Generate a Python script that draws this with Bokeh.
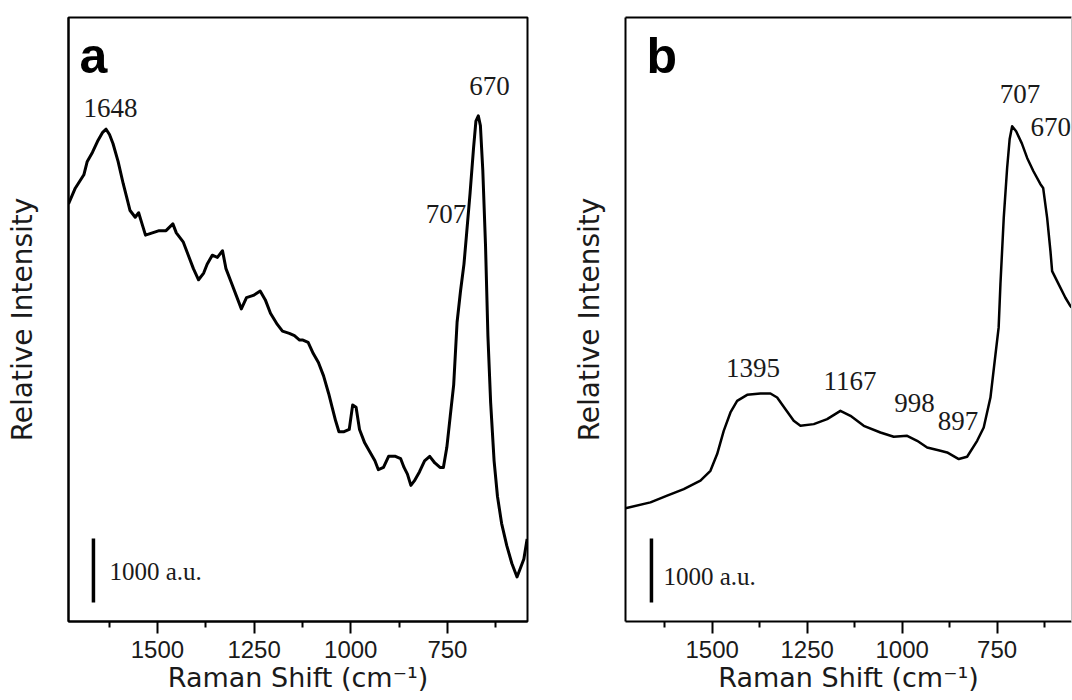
from bokeh.plotting import figure
from bokeh.models import Range1d, FixedTicker, LinearAxis
from bokeh.layouts import row
from bokeh.embed import file_html
from bokeh.resources import INLINE
from bokeh.core.properties import value

# ---------------- data ----------------
major_ticks = [1500, 1250, 1000, 750]
minor_ticks = [1625, 1375, 1125, 875, 625]
tick_labels = ["1500", "1250", "1000", "750"]

# panel a spectrum (Raman shift cm-1, intensity a.u.)
wn_a = [1730, 1712.5, 1690.3, 1681.5, 1668.2, 1654.9, 1641.6, 1632.8, 1624, 1615,
        1601.8, 1588.5, 1579.6, 1570.8, 1557.5, 1548.6, 1539.8, 1530.9, 1513.2, 1495.5,
        1477.8, 1460.1, 1451.2, 1433.5, 1420.2, 1407, 1393.7, 1380.4, 1371.5, 1358.2,
        1345, 1331.7, 1322.8, 1309.5, 1296.3, 1283, 1269.7, 1252, 1234.3, 1221,
        1207.7, 1190, 1176.7, 1159, 1145.7, 1132.4, 1123.6, 1110.3, 1097, 1083.7,
        1070.4, 1057.1, 1048.3, 1039.4, 1030.6, 1017.3, 1004, 995.1, 986.3, 977.4,
        964.1, 950.9, 937.6, 928.7, 915.4, 902.2, 884.5, 871.2, 862.3, 853.5,
        844.6, 835.7, 822.5, 809.2, 795.9, 782.6, 769.3, 760.5, 751.6, 742.8,
        733.9, 725.1, 716.2, 707.3, 700.3, 691.4, 682.5, 676.4, 670.2, 664.8,
        658.6, 651.5, 645.4, 638.3, 629.4, 620.6, 610, 596.6, 583.4, 570.1,
        561.2, 552.4, 544]
int_a = [6526, 6770, 6980, 7189, 7329, 7503, 7643, 7692, 7608, 7468,
         7189, 6840, 6631, 6421, 6316, 6386, 6212, 6037, 6072, 6107,
         6107, 6212, 6072, 5932, 5723, 5513, 5339, 5444, 5583, 5723,
         5688, 5793, 5513, 5304, 5095, 4885, 5060, 5095, 5164, 5025,
         4815, 4641, 4536, 4501, 4466, 4397, 4397, 4362, 4187, 4047,
         3838, 3559, 3349, 3140, 2965, 2965, 3000, 3384, 3349, 3000,
         2791, 2651, 2511, 2372, 2407, 2581, 2581, 2546, 2407, 2302,
         2127, 2197, 2337, 2511, 2581, 2477, 2407, 2407, 2721, 3209,
         3698, 4676, 5164, 5584, 6072, 6701, 7399, 7818, 7901, 7748,
         7050, 5862, 4466, 3419, 2511, 1953, 1534, 1185, 906, 696,
         836, 976, 1290]

# panel b spectrum
wn_b = [1728, 1662.4, 1618.4, 1574.7, 1530.8, 1504.5, 1486.8, 1469.5, 1451.8, 1434.2,
        1407.9, 1372.9, 1346.6, 1328.9, 1307, 1285.3, 1267.6, 1232.6, 1197.4, 1162.4,
        1136, 1101, 1057.1, 1022.1, 986.8, 960.5, 934.2, 899.2, 881.6, 851,
        829, 802.6, 785.3, 767.6, 754.5, 746, 741.3, 732.6, 723.7, 717,
        710.5, 700, 685, 671, 654.5, 636, 628.9, 618.4, 609.7, 605.3,
        587.9, 570.3, 557.1, 554]
int_b = [1820, 1911, 2016, 2120, 2250, 2406, 2667, 3031, 3318, 3500,
         3594, 3615, 3615, 3552, 3370, 3188, 3109, 3136, 3214, 3344,
         3266, 3109, 3005, 2938, 2953, 2875, 2771, 2719, 2693, 2589,
         2625, 2875, 3083, 3552, 4220, 4650, 5328, 6364, 7145, 7600,
         7797, 7720, 7530, 7302, 7094, 6891, 6833, 6364, 5844, 5531,
         5323, 5114, 4984, 4960]

# peak annotations
peaks_a = ["1648", "707", "670"]
peaks_a_x = [1621.5, 754, 641.5]
peaks_a_y = [8027, 6371, 8371]

peaks_b = ["1395", "1167", "998", "897", "707"]
peaks_b_x = [1392.6, 1137.4, 967.6, 853.2, 690]
peaks_b_y = [4011, 3808, 3464, 3183, 8308]
peaks_b_left = ["670"]
peaks_b_left_x = [662.4]
peaks_b_left_y = [7793]

scale_bar = 1000  # a.u.
bar_a = (1665.5, 297)
bar_b = (1659.7, 344)
bar_label = "1000 a.u."
bar_label_a = (1624, 782)
bar_label_b = (1628, 750)

letter_a = ("a", 1701.7, 8843)
letter_b = ("b", 1672.9, 8890)

SANS = "Liberation Sans"
SERIF = "Liberation Serif"
TXT = "#1a1a1a"


def style_axes(p, ylab_standoff):
    xa = p.xaxis[0]
    xa.ticker = FixedTicker(ticks=major_ticks, minor_ticks=minor_ticks)
    xa.major_label_overrides = {t: l for t, l in zip(major_ticks, tick_labels)}
    xa.axis_label = "Raman Shift (cm\u207b\u00b9)"
    xa.axis_label_text_font = "DejaVu Sans"
    xa.axis_label_text_font_size = "27px"
    xa.axis_label_text_font_style = "normal"
    xa.axis_label_text_color = TXT
    xa.axis_label_standoff = 1
    xa.major_label_text_font = SANS
    xa.major_label_text_font_size = "24px"
    xa.major_label_text_color = TXT
    xa.major_label_standoff = 7
    xa.major_tick_in = 0
    xa.major_tick_out = 12
    xa.minor_tick_in = 0
    xa.minor_tick_out = 6
    xa.major_tick_line_width = 2
    xa.minor_tick_line_width = 2
    xa.major_tick_line_color = "black"
    xa.minor_tick_line_color = "black"
    xa.axis_line_width = 2
    xa.axis_line_color = "black"

    ya = p.yaxis[0]
    ya.ticker = FixedTicker(ticks=[])
    ya.major_label_text_font_size = "0px"
    ya.major_tick_in = 0
    ya.major_tick_out = 0
    ya.minor_tick_in = 0
    ya.minor_tick_out = 0
    ya.axis_line_width = 2
    ya.axis_line_color = "black"
    ya.axis_label = "Relative Intensity"
    ya.axis_label_text_font = "DejaVu Sans"
    ya.axis_label_text_font_size = "28px"
    ya.axis_label_text_font_style = "normal"
    ya.axis_label_text_color = TXT
    ya.axis_label_standoff = ylab_standoff


# ---------------- panel a ----------------
pa = figure(width=567, height=700, x_range=Range1d(1730, 543), y_range=Range1d(0, 9437),
            output_backend="svg", toolbar_location=None,
            min_border_left=68, min_border_right=40, min_border_top=17, min_border_bottom=79)
pa.grid.visible = False
pa.outline_line_color = "black"
pa.outline_line_width = 2
style_axes(pa, 30)
pa.line(wn_a, int_a, line_color="black", line_width=3, line_join="round")
pa.segment(x0=[bar_a[0]], y0=[bar_a[1]], x1=[bar_a[0]], y1=[bar_a[1] + scale_bar],
           line_color="black", line_width=3.5)
pa.text(x=[bar_label_a[0]], y=[bar_label_a[1]], text=[bar_label], text_font=value(SERIF),
        text_font_size="25px", text_align="left", text_baseline="alphabetic", text_color=TXT)
pa.text(x=peaks_a_x, y=peaks_a_y, text=peaks_a, text_font=value(SERIF),
        text_font_size="27px", text_align="center", text_baseline="alphabetic", text_color=TXT)
pa.text(x=[letter_a[1]], y=[letter_a[2]], text=[letter_a[0]], text_font=value(SANS),
        text_font_style="bold", text_font_size="50px", text_align="left",
        text_baseline="alphabetic", text_color="black")

# ---------------- panel b ----------------
pb = figure(width=505, height=700, x_range=Range1d(1728, 554.3), y_range=Range1d(46.9, 9500),
            output_backend="svg", toolbar_location=None,
            min_border_left=58, min_border_right=1, min_border_top=16, min_border_bottom=79)
pb.grid.visible = False
pb.outline_line_color = None
style_axes(pb, 20)
top_ax = LinearAxis(ticker=FixedTicker(ticks=[]), major_label_text_font_size="0px",
                    major_tick_out=0, major_tick_in=0, minor_tick_out=0, minor_tick_in=0,
                    axis_line_width=2, axis_line_color="black")
pb.add_layout(top_ax, "above")
right_ax = LinearAxis(ticker=FixedTicker(ticks=[]), major_label_text_font_size="0px",
                      major_tick_out=0, major_tick_in=0, minor_tick_out=0, minor_tick_in=0,
                      axis_line_width=1, axis_line_color="#c4c4c4")
pb.add_layout(right_ax, "right")
pb.line(wn_b, int_b, line_color="black", line_width=2.5, line_join="round")
pb.segment(x0=[bar_b[0]], y0=[bar_b[1]], x1=[bar_b[0]], y1=[bar_b[1] + scale_bar],
           line_color="black", line_width=3.5)
pb.text(x=[bar_label_b[0]], y=[bar_label_b[1]], text=[bar_label], text_font=value(SERIF),
        text_font_size="25px", text_align="left", text_baseline="alphabetic", text_color=TXT)
pb.text(x=peaks_b_x, y=peaks_b_y, text=peaks_b, text_font=value(SERIF),
        text_font_size="27px", text_align="center", text_baseline="alphabetic", text_color=TXT)
pb.text(x=peaks_b_left_x, y=peaks_b_left_y, text=peaks_b_left, text_font=value(SERIF),
        text_font_size="27px", text_align="left", text_baseline="alphabetic", text_color=TXT)
pb.text(x=[letter_b[1]], y=[letter_b[2]], text=[letter_b[0]], text_font=value(SANS),
        text_font_style="bold", text_font_size="50px", text_align="left",
        text_baseline="alphabetic", text_color="black")

layout = row(pa, pb, spacing=0)
open("out.html", "w").write(file_html(layout, INLINE))
